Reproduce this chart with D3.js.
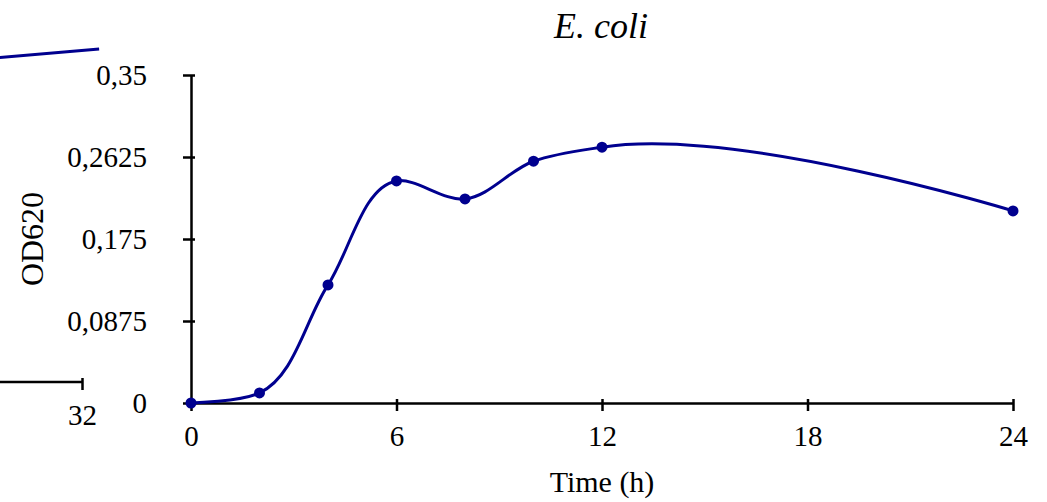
<!DOCTYPE html>
<html>
<head>
<meta charset="utf-8">
<script src="https://cdnjs.cloudflare.com/ajax/libs/d3/7.8.5/d3.min.js"></script>
<style>
body { margin: 0; background: #fff; }
</style>
</head>
<body>
<div id="chart"></div>
<script>
var w = 1047;
var h = 502;

// main panel data (E. coli growth)
var hours = [0, 2, 4, 6, 8, 10, 12, 24];
var od620 = [0, 0.0107, 0.126, 0.237, 0.2177, 0.258, 0.273, 0.205];
var xTicks = [0, 6, 12, 18, 24];
var yTicks = [0, 0.0875, 0.175, 0.2625, 0.35];
var yTickLabels = ["0", "0,0875", "0,175", "0,2625", "0,35"];

// cut-off piece of the neighbouring panel on the left
var leftHours = [29.1, 32.5];
var leftOd = [0.3447, 0.3554];
var leftTicks = [32];

var lineColor = "#00008f";
var serif = "'Liberation Serif', 'Times New Roman', serif";

var svg = d3.select("#chart")
    .append("svg")
    .attr("width", w)
    .attr("height", h);

//Create scale functions
var xScale = d3.scaleLinear()
    .domain([0, 24])
    .range([191, 1013]);

var yScale = d3.scaleLinear()
    .domain([0, 0.35])
    .range([403, 75]);

//Define X axis
var xAxis = d3.axisBottom()
    .scale(xScale)
    .tickValues(xTicks)
    .tickSizeInner(8)
    .tickSizeOuter(0)
    .tickPadding(14)
    .tickFormat(d3.format("d"));

//Define Y axis
var yAxis = d3.axisLeft()
    .scale(yScale)
    .tickValues(yTicks)
    .tickSizeInner(8)
    .tickSizeOuter(0)
    .tickPadding(36)
    .tickFormat(function (d, i) { return yTickLabels[i]; });

var gx = svg.append("g")
    .attr("class", "x axis")
    .attr("transform", "translate(0," + yScale(0) + ")")
    .call(xAxis);

var gy = svg.append("g")
    .attr("class", "y axis")
    .attr("transform", "translate(" + xScale(0) + ",0)")
    .call(yAxis);

// cross ticks: extend a bit on the inside
gx.selectAll(".tick line").attr("y1", -4);
gy.selectAll(".tick line").attr("x1", 4);

svg.selectAll(".axis path, .axis line")
    .attr("stroke", "#000")
    .attr("stroke-width", 2.5);
svg.selectAll(".axis text")
    .attr("fill", "#000")
    .attr("font-family", serif)
    .attr("font-size", "29px");
gy.selectAll(".tick text").attr("dy", "0.34em");

//Title
svg.append("text")
    .attr("x", 601)
    .attr("y", 38)
    .attr("text-anchor", "middle")
    .attr("font-family", serif)
    .attr("font-style", "italic")
    .attr("font-size", "36px")
    .attr("fill", "#000")
    .text("E. coli");

//Axis titles
svg.append("text")
    .attr("x", xScale(12))
    .attr("y", 492)
    .attr("text-anchor", "middle")
    .attr("font-family", serif)
    .attr("font-size", "30px")
    .attr("fill", "#000")
    .text("Time (h)");

svg.append("text")
    .attr("transform", "translate(43," + yScale(0.175) + ") rotate(-90)")
    .attr("text-anchor", "middle")
    .attr("font-family", serif)
    .attr("font-size", "32px")
    .attr("fill", "#000")
    .text("OD620");

//Smoothed line
var line = d3.line()
    .x(function (d, i) { return xScale(hours[i]); })
    .y(function (d) { return yScale(d); })
    .curve(d3.curveCatmullRom.alpha(1));

svg.append("path")
    .datum(od620)
    .attr("d", line)
    .attr("fill", "none")
    .attr("stroke", lineColor)
    .attr("stroke-width", 3);

svg.selectAll("circle.pt")
    .data(od620)
    .enter()
    .append("circle")
    .attr("class", "pt")
    .attr("cx", function (d, i) { return xScale(hours[i]); })
    .attr("cy", function (d) { return yScale(d); })
    .attr("r", 5.5)
    .attr("fill", lineColor);

// neighbouring panel, only its right edge is visible
var xLeft = d3.scaleLinear()
    .domain([0, 32])
    .range([82 - 32 * 34.25, 82]);

var yLeft = d3.scaleLinear()
    .domain([0, 0.35])
    .range([382, 54]);

var xAxisLeft = d3.axisBottom()
    .scale(xLeft)
    .tickValues(leftTicks)
    .tickSizeInner(8)
    .tickSizeOuter(0)
    .tickPadding(14);

var gxl = svg.append("g")
    .attr("class", "x axis left")
    .attr("transform", "translate(0," + yLeft(0) + ")")
    .call(xAxisLeft);
gxl.select(".domain").attr("d", "M" + xLeft(0) + ",0H" + xLeft(32));
gxl.selectAll(".tick line").attr("y1", -4)
    .attr("stroke", "#000").attr("stroke-width", 2.5);
gxl.selectAll(".domain").attr("stroke", "#000").attr("stroke-width", 2.5);
gxl.selectAll("text")
    .attr("fill", "#000")
    .attr("font-family", serif)
    .attr("font-size", "29px");

var leftLine = d3.line()
    .x(function (d, i) { return xLeft(leftHours[i]); })
    .y(function (d) { return yLeft(d); });

svg.append("path")
    .datum(leftOd)
    .attr("d", leftLine)
    .attr("fill", "none")
    .attr("stroke", lineColor)
    .attr("stroke-width", 3);
</script>
</body>
</html>
